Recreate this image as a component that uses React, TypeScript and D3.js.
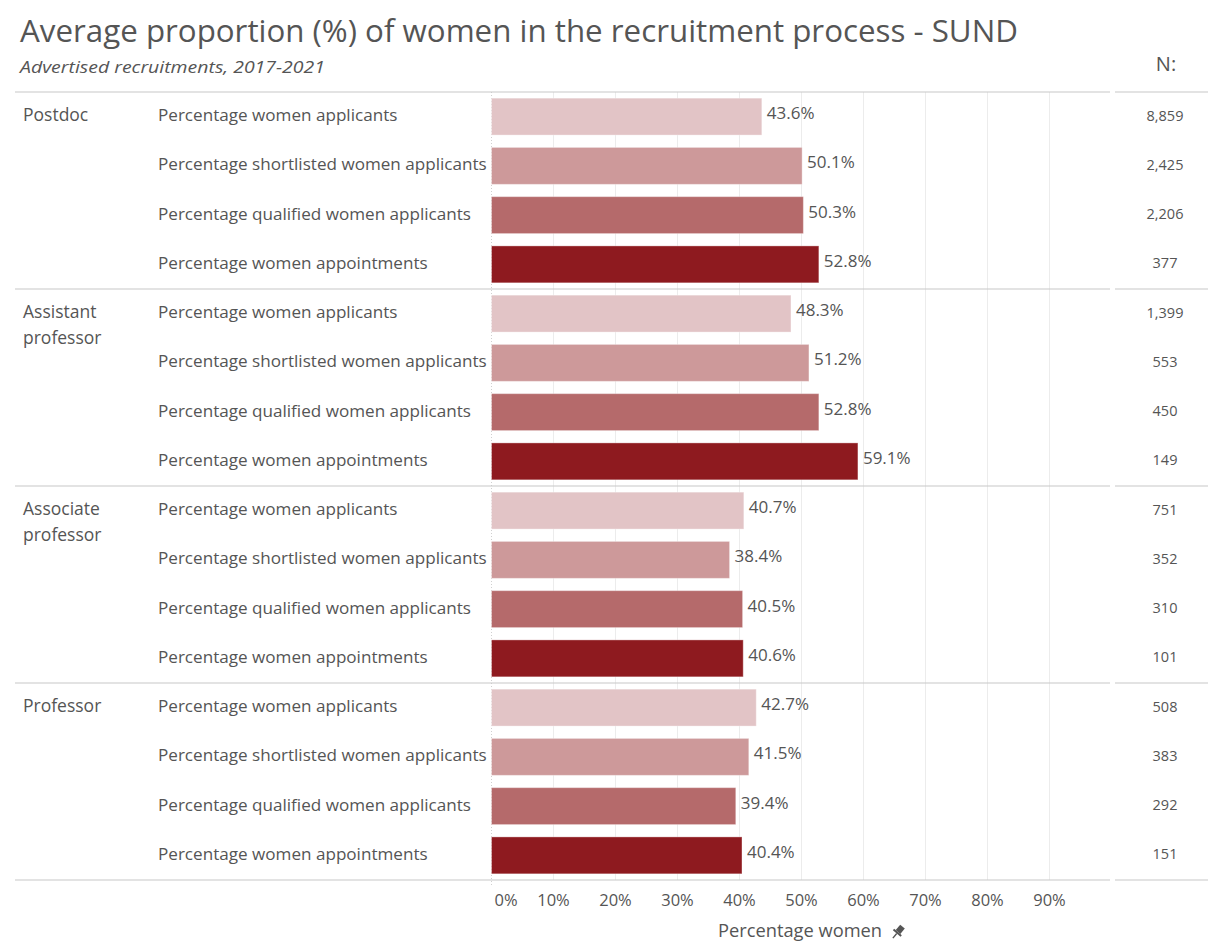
import React from "react";
import * as d3 from "d3";

const roles = ["Postdoc", "Assistant professor", "Associate professor", "Professor"];
const roleLines = [["Postdoc"], ["Assistant", "professor"], ["Associate", "professor"], ["Professor"]];
const measures = [
  "Percentage women applicants",
  "Percentage shortlisted women applicants",
  "Percentage qualified women applicants",
  "Percentage women appointments",
];
const values = [
  [43.6, 50.1, 50.3, 52.8],
  [48.3, 51.2, 52.8, 59.1],
  [40.7, 38.4, 40.5, 40.6],
  [42.7, 41.5, 39.4, 40.4],
];
const counts = [
  [8859, 2425, 2206, 377],
  [1399, 553, 450, 149],
  [751, 352, 310, 101],
  [508, 383, 292, 151],
];
const tickValues = [0, 10, 20, 30, 40, 50, 60, 70, 80, 90];
const colors = ["#e2c4c6", "#cd999a", "#b56a6b", "#8e1a1f"];

const FONT = "'Open Sans', 'Noto Sans', sans-serif";
const TXT = "#555";

export default function App() {
  const W = 1208, H = 941;
  const top = 92, bottom = 880;
  const x = d3.scaleLinear().domain([0, 100]).range([491.5, 1111.5]);
  const rows = roles.flatMap((r, i) => measures.map((m, j) => ({ r: i, m: j, key: `${i}-${j}`, v: values[i][j], n: counts[i][j] })));
  const y = d3.scaleBand<string>().domain(rows.map(d => d.key)).range([top, bottom]).paddingInner(0.25).paddingOuter(0.125);
  const step = y.step();
  const sectionH = step * measures.length;
  const fmt = d3.format(",");

  return (
    <svg width={W} height={H} style={{ position: "absolute", left: 0, top: 0, background: "#fff" }} fontFamily={FONT}>
      <text x={20} y={42} fontSize={31.3} fill={TXT}>Average proportion (%) of women in the recruitment process - SUND</text>
      <text x={20} y={73} fontSize={17} fontStyle="italic" fill={TXT} textLength={305} lengthAdjust="spacingAndGlyphs">Advertised recruitments, 2017-2021</text>
      <text x={1166} y={71} fontSize={20} fill={TXT} textAnchor="middle">N:</text>

      {/* gridlines */}
      {tickValues.slice(1).map(t => (
        <line key={t} x1={x(t)} x2={x(t)} y1={top} y2={bottom} stroke="#ececec" strokeWidth={1} />
      ))}
      <line x1={x(0)} x2={x(0)} y1={top} y2={bottom + 6} stroke="#d0d0d0" strokeDasharray="1,2" />

      {/* separators */}
      {d3.range(roles.length + 1).map(i => {
        const yy = top + i * sectionH;
        return (
          <g key={i}>
            <line x1={15} x2={1110} y1={yy} y2={yy} stroke="#c8c8c8" strokeWidth={1.2} />
            <line x1={1115} x2={1208} y1={yy} y2={yy} stroke="#c8c8c8" strokeWidth={1.2} />
          </g>
        );
      })}

      {/* role labels */}
      {roleLines.map((lines, i) => (
        <text key={i} x={23} y={y(`${i}-0`)! + y.bandwidth() / 2 + 4} fontSize={17.5} fill={TXT}>
          {lines.map((l, k) => (
            <tspan key={k} x={23} dy={k === 0 ? 0 : 26}>{l}</tspan>
          ))}
        </text>
      ))}

      {rows.map(d => {
        const yy = y(d.key)!;
        const cy = yy + y.bandwidth() / 2;
        return (
          <g key={d.key}>
            <text x={158} y={cy + 4.5} fontSize={17.1} fill={TXT}>{measures[d.m]}</text>
            <rect x={x(0)} y={yy} width={x(d.v) - x(0)} height={y.bandwidth()} fill={colors[d.m]} stroke="#fff" strokeOpacity={0.35} strokeWidth={1} />
            <text x={x(d.v) + 5} y={cy + 2.5} fontSize={17} fill={TXT}>{d.v.toFixed(1)}%</text>
            <text x={1165} y={cy + 4} fontSize={14.5} fill={TXT} textAnchor="middle">{fmt(d.n)}</text>
          </g>
        );
      })}

      {/* axis */}
      {tickValues.map(t => (
        <text key={t} x={t === 0 ? x(t) + 3 : x(t)} y={906} fontSize={16.5} fill={TXT} textAnchor={t === 0 ? "start" : "middle"}>{t}%</text>
      ))}
      <text x={800} y={937} fontSize={18.3} fill={TXT} textAnchor="middle">Percentage women</text>
      <g transform="translate(898,932) rotate(40)" fill="#555">
        <rect x={-3} y={-7} width={6} height={7} />
        <rect x={-5} y={0} width={10} height={2} />
        <rect x={-0.7} y={2} width={1.4} height={6} />
      </g>
    </svg>
  );
}
